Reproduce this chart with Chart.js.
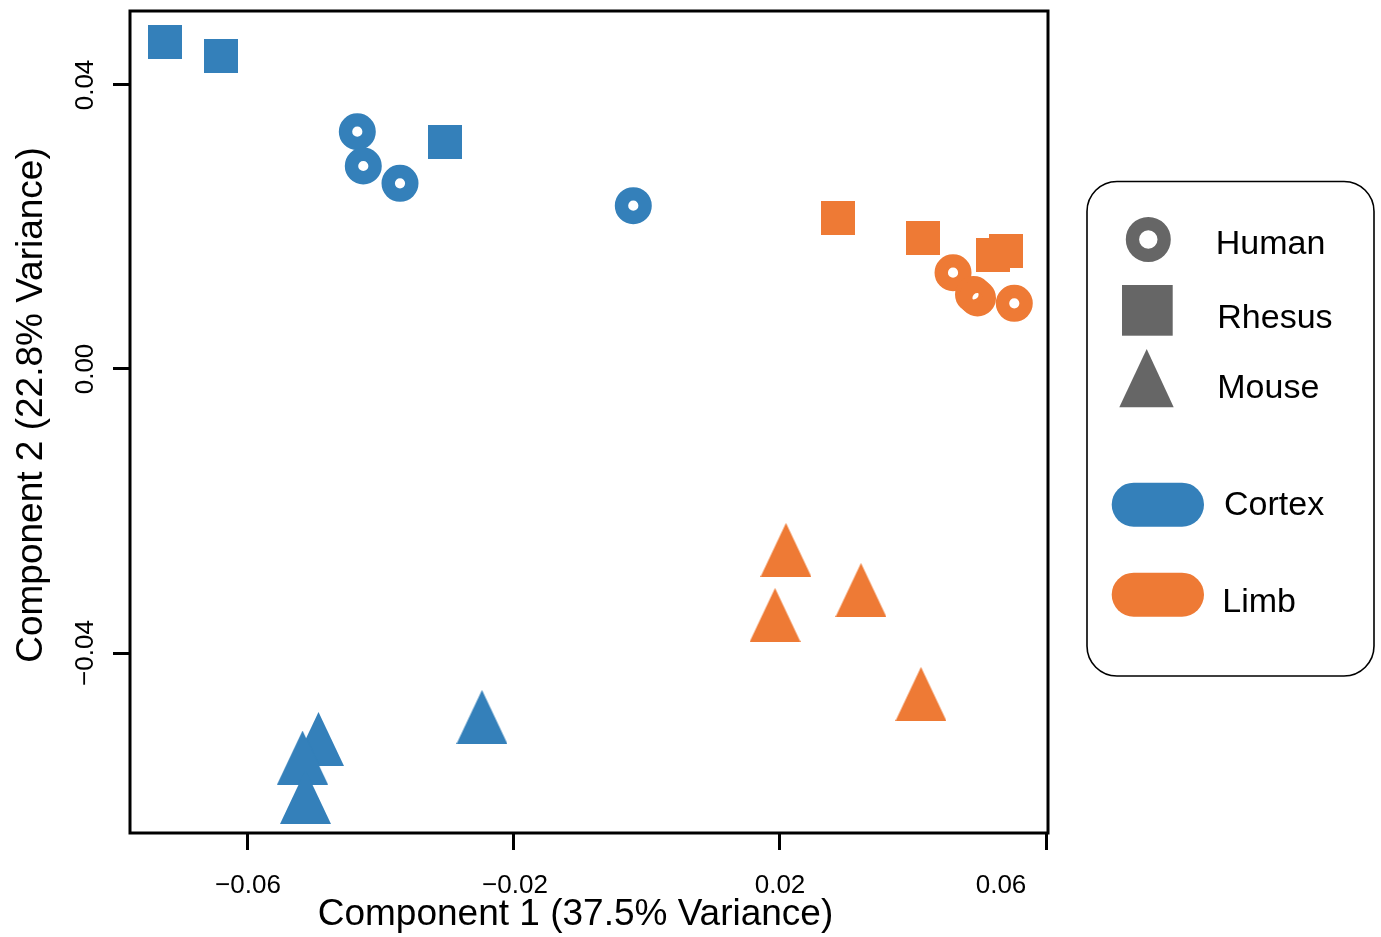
<!DOCTYPE html>
<html>
<head>
<meta charset="utf-8">
<script src="https://cdn.jsdelivr.net/npm/chart.js@4.4.1/dist/chart.umd.min.js"></script>
<style>
  html, body { margin: 0; padding: 0; background: #ffffff; }
  #wrap { width: 1381px; height: 937px; }
</style>
</head>
<body>
<div id="wrap"><canvas id="c" width="1381" height="937"></canvas></div>
<script>
// ---------------- data ----------------
const tissues = ['Cortex', 'Limb'];
const species = ['Human', 'Rhesus', 'Mouse'];

const cortexHumanX  = [-0.04356, -0.04266, -0.03714, -0.00206];
const cortexHumanY  = [ 0.03342,  0.02859,  0.02615,  0.02300];
const cortexRhesusX = [-0.07248, -0.06406, -0.03038];
const cortexRhesusY = [ 0.04606,  0.04408,  0.03197];
const cortexMouseX  = [-0.04940, -0.05180, -0.05135, -0.02481];
const cortexMouseY  = [-0.05211, -0.05472, -0.06028, -0.04901];

const limbHumanX  = [0.04602, 0.04910, 0.04970, 0.05523];
const limbHumanY  = [0.01356, 0.01049, 0.01000, 0.00925];
const limbRhesusX = [0.02872, 0.04150, 0.05203, 0.05398];
const limbRhesusY = [0.02127, 0.01845, 0.01606, 0.01662];
const limbMouseX  = [0.02090, 0.01925, 0.03218, 0.04120];
const limbMouseY  = [-0.02549, -0.03465, -0.03113, -0.04577];

const xTickValues = [-0.06, -0.02, 0.02, 0.06];
const xTickLabels = ['\u22120.06', '\u22120.02', '0.02', '0.06'];
const yTickValues = [-0.04, 0.00, 0.04];
const yTickLabels = ['\u22120.04', '0.00', '0.04'];
const xTitle = 'Component 1 (37.5% Variance)';
const yTitle = 'Component 2 (22.8% Variance)';

// ---------------- styles ----------------
const BLUE = '#3480BA', ORANGE = '#EE7A35', GREY = '#666666';
const FONT = '"Liberation Sans", Arial, Helvetica, sans-serif';

function squareImg(size, color) {
  const c = document.createElement('canvas');
  c.width = size; c.height = size;
  const g = c.getContext('2d');
  g.fillStyle = color; g.fillRect(0, 0, size, size);
  return c;
}
function triangleImg(w, h, color) {
  const c = document.createElement('canvas');
  c.width = w; c.height = h;
  const g = c.getContext('2d');
  g.fillStyle = color;
  g.beginPath(); g.moveTo(w / 2, 0); g.lineTo(w, h); g.lineTo(0, h); g.closePath(); g.fill();
  return c;
}
const pts = (xs, ys) => xs.map((x, i) => ({ x: x, y: ys[i] }));

function ringDs(label, xs, ys, color) {
  return { label, data: pts(xs, ys), pointStyle: 'circle', pointRadius: 11.8, pointHoverRadius: 11.8,
    pointBorderWidth: 13.4, pointHoverBorderWidth: 13.4, pointBorderColor: color,
    pointBackgroundColor: 'rgba(0,0,0,0)', showLine: false, clip: false };
}
function imgDs(label, xs, ys, img) {
  return { label, data: pts(xs, ys), pointStyle: img, pointRadius: 17, pointHoverRadius: 17,
    pointBorderWidth: 0, showLine: false, clip: false };
}

const datasets = [
  ringDs(tissues[0] + ' ' + species[0], cortexHumanX, cortexHumanY, BLUE),
  imgDs(tissues[0] + ' ' + species[1], cortexRhesusX, cortexRhesusY, squareImg(34, BLUE)),
  imgDs(tissues[0] + ' ' + species[2], cortexMouseX, cortexMouseY, triangleImg(51, 54, BLUE)),
  ringDs(tissues[1] + ' ' + species[0], limbHumanX, limbHumanY, ORANGE),
  imgDs(tissues[1] + ' ' + species[1], limbRhesusX, limbRhesusY, squareImg(34, ORANGE)),
  imgDs(tissues[1] + ' ' + species[2], limbMouseX, limbMouseY, triangleImg(51, 54, ORANGE))
];

// ---------------- decorations: frame, tick labels, titles, legend ----------------
const decor = {
  id: 'decor',
  afterDraw(chart) {
    const ctx = chart.ctx, a = chart.chartArea;
    const xs = chart.scales.x, ys = chart.scales.y;
    ctx.save();
    // plot frame
    ctx.strokeStyle = '#000'; ctx.lineWidth = 3;
    ctx.strokeRect(a.left, a.top - 1, a.right - a.left, a.bottom - a.top + 1);

    // x tick labels
    ctx.fillStyle = '#000';
    ctx.font = '26px ' + FONT;
    ctx.textAlign = 'center'; ctx.textBaseline = 'alphabetic';
    const xShift = [0, 1, 0, -45];
    xTickValues.forEach((v, i) => {
      ctx.fillText(xTickLabels[i], xs.getPixelForValue(v) + xShift[i], 893);
    });
    // y tick labels (rotated)
    yTickValues.forEach((v, i) => {
      ctx.save();
      ctx.translate(92.5, ys.getPixelForValue(v));
      ctx.rotate(-Math.PI / 2);
      ctx.fillText(yTickLabels[i], 0, 0);
      ctx.restore();
    });
    // axis titles
    ctx.font = '37px ' + FONT;
    ctx.fillText(xTitle, 575.5, 925);
    ctx.save();
    ctx.translate(41.5, 405);
    ctx.rotate(-Math.PI / 2);
    ctx.fillText(yTitle, 0, 0);
    ctx.restore();

    // legend frame
    ctx.lineWidth = 1.6; ctx.strokeStyle = '#000';
    ctx.beginPath();
    ctx.roundRect(1087, 181.5, 287, 494.5, 30);
    ctx.stroke();
    // species symbols
    ctx.strokeStyle = GREY; ctx.fillStyle = GREY;
    ctx.lineWidth = 13.3;
    ctx.beginPath(); ctx.arc(1148.3, 239.5, 15.85, 0, Math.PI * 2); ctx.stroke();
    ctx.fillRect(1122, 285, 50.7, 50.7);
    ctx.beginPath(); ctx.moveTo(1146.7, 349); ctx.lineTo(1173.7, 407.3); ctx.lineTo(1119.3, 407.3); ctx.closePath(); ctx.fill();
    // tissue pills
    ctx.fillStyle = BLUE;
    ctx.beginPath(); ctx.roundRect(1111.7, 482.7, 92.3, 44, 22); ctx.fill();
    ctx.fillStyle = ORANGE;
    ctx.beginPath(); ctx.roundRect(1111.7, 572.7, 92.3, 44, 22); ctx.fill();
    // legend texts
    ctx.fillStyle = '#000';
    ctx.font = '34px ' + FONT;
    ctx.textAlign = 'left';
    ctx.fillText(species[0], 1215.7, 254.3);
    ctx.fillText(species[1], 1217.3, 328.3);
    ctx.fillText(species[2], 1217.3, 398.3);
    ctx.fillText(tissues[0], 1224, 515);
    ctx.fillText(tissues[1], 1222.3, 611.7);
    ctx.restore();
  }
};

const tickGrid = { display: true, drawOnChartArea: false, drawTicks: true, tickLength: 17,
                   tickWidth: 3, tickColor: '#000', color: '#000', lineWidth: 3 };

new Chart(document.getElementById('c'), {
  type: 'scatter',
  data: { datasets },
  plugins: [decor],
  options: {
    responsive: false,
    animation: false,
    events: [],
    layout: { autoPadding: false, padding: { left: 113, right: 333, top: 12, bottom: 87 } },
    plugins: { legend: { display: false }, tooltip: { enabled: false } },
    scales: {
      x: {
        type: 'linear', min: -0.07774, max: 0.06030,
        grid: tickGrid, border: { display: false },
        ticks: { display: false },
        afterBuildTicks: (s) => { s.ticks = xTickValues.map(v => ({ value: v })); }
      },
      y: {
        type: 'linear', min: -0.06535, max: 0.05028,
        grid: tickGrid, border: { display: false },
        ticks: { display: false },
        afterBuildTicks: (s) => { s.ticks = yTickValues.map(v => ({ value: v })); }
      }
    }
  }
});
</script>
</body>
</html>
